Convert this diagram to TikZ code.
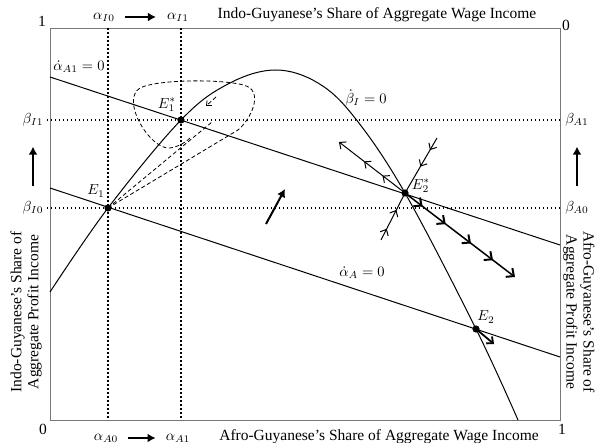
\documentclass[tikz,border=0pt]{standalone}
\usepackage{amsmath}
\usepackage{fontspec}
\setmainfont{Liberation Serif}
\usetikzlibrary{arrows.meta, decorations.markings, calc}
\definecolor{FrameGray}{RGB}{120, 120, 120}
\newcommand{\mtxt}[1]{\scalebox{1.45}{$#1$}}

\begin{document}
\begin{tikzpicture}[
    x=1pt, y=-1pt,
    frame/.style={draw=FrameGray, line width=0.9pt},
    curve/.style={line width=1pt},
    guide/.style={line width=1.7pt, dash pattern=on 1.6pt off 2.4pt},
    orbit/.style={line width=0.8pt, dash pattern=on 4pt off 2.5pt},
    lab/.style={font=\fontsize{15.5}{17}\selectfont, inner sep=0pt},
    mlab/.style={inner sep=0pt},
    movearrow/.style={line width=2pt, -{Latex[length=8pt, width=9pt]}},
    flow/.style 2 args={curve, postaction={decorate}, decoration={markings,
        mark=at position #1 with {\arrow{Straight Barb[length=5pt, width=9pt]}},
        mark=at position #2 with {\arrow{Straight Barb[length=5pt, width=9pt]}}}},
    boldflow/.style={line width=1.5pt, postaction={decorate}, decoration={markings,
        mark=at position 0.16 with {\arrow{Straight Barb[length=6pt, width=11pt, line width=2pt]}},
        mark=at position 0.37 with {\arrow{Straight Barb[length=6pt, width=11pt, line width=2pt]}},
        mark=at position 0.6 with {\arrow{Straight Barb[length=6pt, width=11pt, line width=2pt]}},
        mark=at position 0.8 with {\arrow{Straight Barb[length=6pt, width=11pt, line width=2pt]}}},
        -{Straight Barb[length=6pt, width=11pt, line width=2pt]}}
  ]
    \useasboundingbox (0,0) rectangle (599,443);

    % Box
    \draw[frame] (50,28) rectangle (560,420);

    % Corner values
    \node[lab] (oneTL) at (42,21) {1};
    \node[lab] (zeroTR) at (566,25) {0};
    \node[lab] (zeroBL) at (43,429) {0};
    \node[lab] (oneBR) at (562,429) {1};

    % Axis titles
    \node[lab] (wageI) at (377,15) {Indo-Guyanese’s Share of Aggregate Wage Income};
    \node[lab] (wageA) at (379,437) {Afro-Guyanese’s Share of Aggregate Wage Income};
    \node[lab, rotate=90, align=center] (profI) at (26,312) {Indo-Guyanese’s Share of\\Aggregate Profit Income};
    \node[lab, rotate=-90, align=center] (profA) at (579,312) {Afro-Guyanese’s Share of\\Aggregate Profit Income};

    % Shares on the axes
    \node[mlab] (aI0) at (104,17) {\mtxt{\alpha_{I0}}};
    \node[mlab] (aI1) at (178,17) {\mtxt{\alpha_{I1}}};
    \node[mlab] (aA0) at (106,438) {\mtxt{\alpha_{A0}}};
    \node[mlab] (aA1) at (178,438) {\mtxt{\alpha_{A1}}};
    \node[mlab] (bI1) at (33,120) {\mtxt{\beta_{I1}}};
    \node[mlab] (bI0) at (33,208) {\mtxt{\beta_{I0}}};
    \node[mlab] (bA1) at (577,120) {\mtxt{\beta_{A1}}};
    \node[mlab] (bA0) at (577,208) {\mtxt{\beta_{A0}}};

    \draw[movearrow, shorten <=10pt, shorten >=11pt] (aI0.east) -- (aI1.west);
    \draw[movearrow, shorten <=10pt, shorten >=10pt] (aA0.east) -- (aA1.west);
    \draw[movearrow, shorten <=15pt, shorten >=20pt] (bI0.north) -- (bI1.south);
    \draw[movearrow, shorten <=15pt, shorten >=20pt] (bA0.north) -- (bA1.south);

    % Dotted guides
    \foreach \x/\n in {108/0, 181/1} {
      \coordinate (vt\n) at (\x,28);
      \coordinate (vb\n) at (\x,420);
      \draw[guide] (vt\n) -- (vb\n);
    }
    \draw[guide, shorten <=3pt, shorten >=3pt] (bI1.east) -- (bA1.west);
    \draw[guide, shorten <=3pt, shorten >=3pt] (bI0.east) -- (bA0.west);

    % Equilibria
    \coordinate (E1) at (108,208);
    \coordinate (E1s) at (181,120);
    \coordinate (E2s) at (405,193);
    \coordinate (E2) at (476,329);

    % Isoclines
    \coordinate (aA1L) at (50,77);
    \coordinate (aA1R) at (560,245);
    \coordinate (aAL) at (50,188);
    \coordinate (aAR) at (560,357);
    \draw[curve] (aA1L) -- (aA1R);
    \draw[curve] (aAL) -- (aAR);
    \draw[curve] plot[smooth, tension=0.6] coordinates {(50,292) (E1) (E1s) (228,84)
      (275,70) (318,83) (355,118) (E2s) (E2) (518,420)};

    \node[mlab] (isoA1) at (79,67) {\mtxt{\dot{\alpha}_{A1} = 0}};
    \node[mlab] (isoB) at (366,98) {\mtxt{\dot{\beta}_{I} = 0}};
    \node[mlab] (isoA) at (362,273) {\mtxt{\dot{\alpha}_{A} = 0}};

    % Path from E1
    \draw[orbit] (E1) -- (212,122);
    \draw[orbit] (E1) -- (238,130) .. controls (248,122) and (262,98) .. (250,88)
      .. controls (240,79) and (160,78) .. (140,88)
      .. controls (120,100) and (150,150) .. (170,148)
      .. controls (178,147) and (186,142) .. (190,138);
    \coordinate (spirT) at (216,97);
    \coordinate (spirH) at (206,106);
    \draw[orbit, -{Straight Barb[length=4pt, width=7pt]}] (spirT) -- (spirH);

    % Saddle at E2*
    \coordinate (stabL) at (381,240);
    \coordinate (stabU) at (437,138);
    \coordinate (unstL) at (339,142);
    \coordinate (unstR) at (515,277);
    \draw[flow={0.24}{0.64}] (stabL) -- (E2s);
    \draw[flow={0.22}{0.52}] (stabU) -- (E2s);
    \draw[flow={0.34}{0.62}, -{Straight Barb[length=5pt, width=9pt]}] (E2s) -- (unstL);
    \draw[boldflow] (E2s) -- (unstR);

    % Shifts
    \coordinate (e2end) at (494,344);
    \draw[line width=1.8pt, -{Straight Barb[length=5pt, width=9pt]}] (E2) -- (e2end);
    \coordinate (midT) at (266,224);
    \coordinate (midH) at (285,189);
    \draw[movearrow] (midT) -- (midH);

    % Dots and labels
    \foreach \p in {E1, E1s, E2s, E2} {
      \fill (\p) circle (3.6);
    }
    \node[mlab] (lE1) at (96,191) {\mtxt{E_1}};
    \node[mlab] (lE1s) at (167,105) {\mtxt{E_1^*}};
    \node[mlab] (lE2s) at (421,186) {\mtxt{E_2^*}};
    \node[mlab] (lE2) at (486,317) {\mtxt{E_2}};
  \end{tikzpicture}
\end{document}
